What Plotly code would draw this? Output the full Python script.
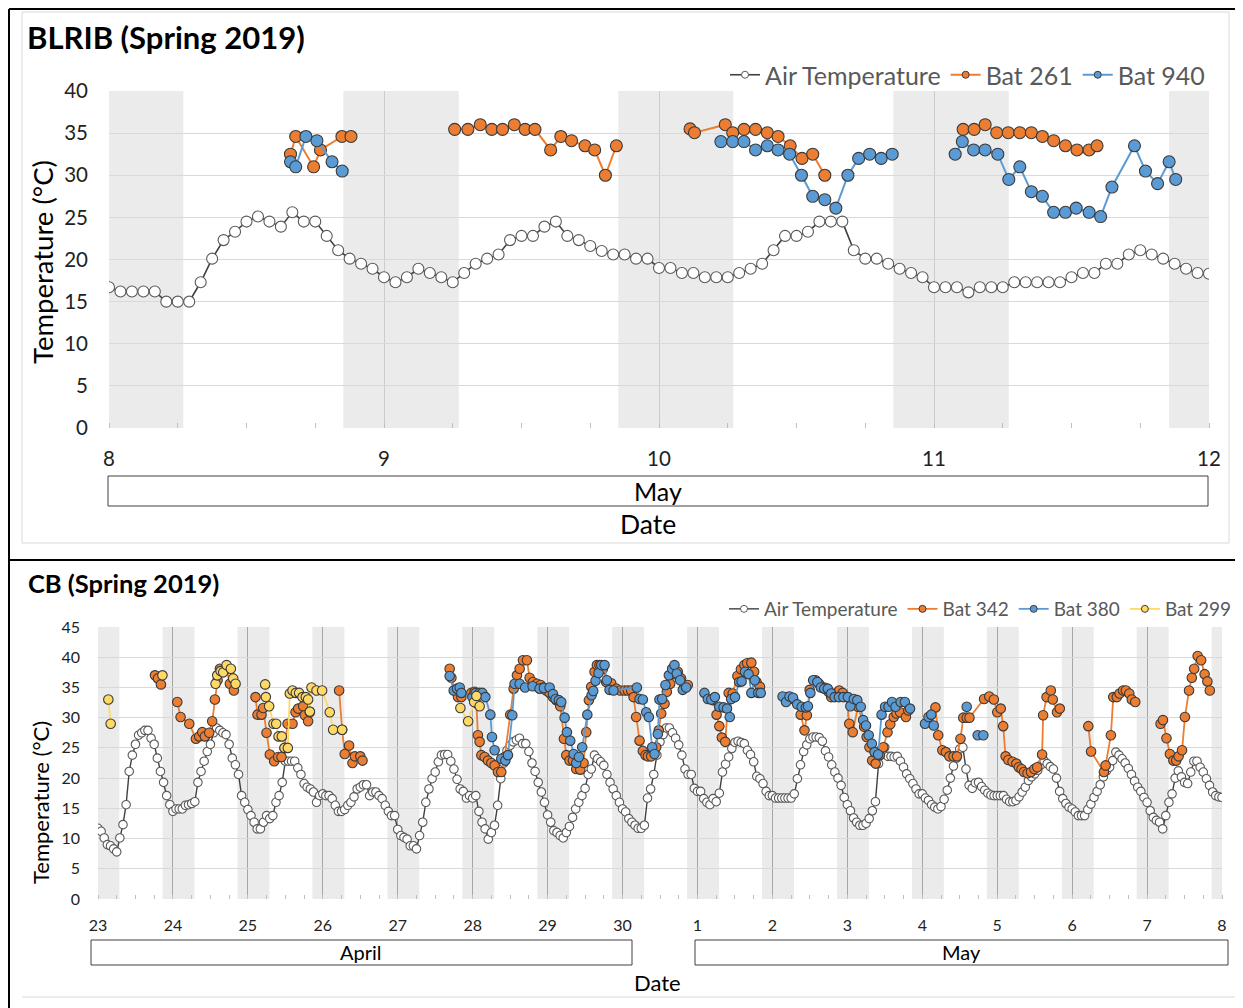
import plotly.graph_objects as go

W, H = 1243, 1008

# ---------------- TOP CHART DATA (BLRIB, May 8-12) ----------------
top_air_temp = [
    16.7, 16.2, 16.2, 16.2, 16.2, 15.0, 15.0, 15.0, 17.3, 20.1, 22.3, 23.3, 24.5, 25.1, 24.5, 23.9,
    25.6, 24.5, 24.5, 22.8, 21.1, 20.1, 19.5, 18.9,
    17.9, 17.3, 17.9, 18.9, 18.4, 17.9, 17.3, 18.4, 19.5, 20.1, 20.6, 22.3, 22.8, 22.8, 23.9, 24.5,
    22.8, 22.3, 21.6, 21.0, 20.6, 20.6, 20.1, 20.1,
    19.0, 19.0, 18.4, 18.4, 17.9, 17.9, 17.9, 18.4, 18.9, 19.5, 21.1, 22.8, 22.8, 23.3, 24.5, 24.5,
    24.5, 21.1, 20.1, 20.1, 19.5, 18.9, 18.4, 17.9,
    16.7, 16.7, 16.7, 16.1, 16.7, 16.7, 16.7, 17.3, 17.3, 17.3, 17.3, 17.3, 17.9, 18.4, 18.4, 19.5,
    19.5, 20.6, 21.1, 20.6, 20.1, 19.5, 18.9, 18.4,
    18.3,
]
top_air_x = [8 + i / 24 for i in range(len(top_air_temp))]

bat261_x = [8.660, 8.679, 8.744, 8.769, 8.847, 8.880, None,
            9.257, 9.305, 9.350, 9.392, 9.431, 9.474, 9.513, 9.549, 9.606, 9.643, 9.682, 9.731, 9.766, 9.805, 9.845, None,
            10.113, 10.129, 10.241, 10.268, 10.309, 10.351, 10.394, 10.433, 10.477, 10.520, 10.559, 10.603, None,
            11.106, 11.146, 11.186, 11.228, 11.270, 11.312, 11.354, 11.394, 11.435, 11.478, 11.520, 11.564, 11.593]
bat261_y = [32.5, 34.6, 31.0, 33.0, 34.6, 34.6, None,
            35.45, 35.45, 36.0, 35.45, 35.45, 36.0, 35.45, 35.45, 33.0, 34.6, 34.1, 33.5, 33.0, 30.0, 33.5, None,
            35.5, 35.05, 36.0, 35.05, 35.45, 35.45, 35.05, 34.6, 33.5, 32.0, 32.5, 30.0, None,
            35.45, 35.45, 36.0, 35.05, 35.05, 35.05, 35.05, 34.6, 34.1, 33.5, 33.0, 33.0, 33.5]

bat940_x = [8.660, 8.679, 8.716, 8.756, 8.811, 8.848, None,
            10.225, 10.268, 10.309, 10.351, 10.394, 10.433, 10.475, 10.518, 10.559, 10.603, 10.643, 10.687, 10.726,
            10.766, 10.808, 10.848, None,
            11.077, 11.103, 11.144, 11.186, 11.232, 11.272, 11.312, 11.354, 11.394, 11.435, 11.478, 11.517, 11.564,
            11.606, 11.647, 11.729, 11.769, 11.813, 11.855, 11.879]
bat940_y = [31.6, 31.0, 34.6, 34.1, 31.6, 30.5, None,
            34.0, 34.0, 34.0, 33.0, 33.5, 33.0, 32.5, 30.0, 27.5, 27.1, 26.1, 30.0, 32.0,
            32.5, 32.0, 32.5, None,
            32.5, 34.0, 33.0, 33.0, 32.5, 29.5, 31.0, 28.05, 27.5, 25.6, 25.6, 26.1, 25.6,
            25.1, 28.6, 33.5, 30.5, 29.0, 31.6, 29.5]

top_nights = [(7.852, 8.270), (8.852, 9.272), (9.852, 10.270), (10.852, 11.272), (11.855, 12.27)]
top_ticks = [8, 9, 10, 11, 12]

# ---------------- BOTTOM CHART DATA (CB, Apr 23 - May 8), x = days since Apr 23 ----------------
cb_air_temp = [
    # Apr 23
    11.7, 11.2, 10.1, 9.0, 8.8, 8.3, 7.8, 10.1, 12.3, 15.6, 21.1, 23.8, 25.6, 27.1, 27.5, 27.9, 27.9, 26.6, 25.6, 23.3, 21.1, 19.3, 17.1, 15.6,
    # Apr 24
    14.5, 14.9, 14.9, 14.9, 15.5, 15.6, 15.8, 16.1, 19.3, 21.1, 22.8, 24.4, 25.6, 27.5, 28.3, 27.9, 27.5, 27.2, 25.6, 23.3, 22.2, 20.6, 17.1, 16.0,
    # Apr 25
    14.8, 13.8, 12.7, 11.6, 11.6, 12.7, 13.8, 13.3, 13.8, 16.0, 17.1, 19.3, 22.8, 22.8, 22.8, 22.8, 21.7, 20.6, 19.1, 18.5, 18.2, 17.7, 16.0, 17.1,
    # Apr 26
    17.4, 17.1, 17.1, 16.6, 15.5, 14.5, 14.5, 14.8, 15.5, 16.0, 16.9, 18.2, 18.5, 18.9, 18.9, 17.1, 17.7, 17.7, 17.1, 16.6, 15.5, 14.5, 13.8, 13.8,
    # Apr 27
    11.5, 10.5, 10.2, 9.9, 8.8, 8.8, 8.3, 10.5, 12.7, 16.0, 18.2, 19.9, 21.0, 22.7, 23.8, 23.9, 23.9, 22.8, 21.5, 19.8, 18.2, 17.8, 16.7, 17.1,
    # Apr 28
    16.7, 17.1, 14.5, 12.7, 11.6, 9.9, 11.0, 12.2, 15.5, 19.9, 22.5, 24.6, 25.4, 26.0, 26.3, 26.6, 25.7, 25.7, 24.4, 22.5, 21.1, 19.3, 17.7, 16.0,
    # Apr 29
    13.9, 12.7, 11.3, 11.0, 10.5, 10.1, 11.0, 12.0, 13.5, 14.9, 16.0, 17.1, 18.3, 20.6, 21.5, 23.8, 23.2, 22.7, 22.1, 20.6, 19.3, 18.2, 17.1, 16.0,
    # Apr 30
    14.9, 14.4, 13.3, 12.7, 12.2, 11.7, 11.7, 12.2, 16.7, 18.2, 20.6, 23.8, 26.0, 27.2, 28.3, 28.3, 27.5, 26.6, 25.5, 23.8, 21.5, 20.6, 20.6, 18.3,
    # May 1
    17.8, 17.8, 16.6, 16.0, 15.6, 16.6, 16.1, 17.5, 21.0, 22.3, 23.5, 24.9, 25.9, 26.1, 25.9, 25.7, 24.6, 23.9, 22.7, 20.3, 19.9, 19.1, 17.8, 17.1,
    # May 2
    17.1, 16.7, 16.7, 16.7, 16.7, 16.7, 16.7, 17.4, 19.9, 22.2, 24.4, 25.5, 26.5, 26.8, 26.8, 26.7, 26.1, 24.5, 23.5, 22.2, 21.0, 20.0, 18.8, 16.8,
    # May 3
    15.6, 14.6, 13.4, 12.7, 12.2, 12.2, 12.5, 13.3, 14.6, 16.1, 22.4, 24.9, 25.1, 23.6, 23.6, 23.5, 23.6, 22.8, 21.8, 20.7, 19.9, 19.1, 18.2, 17.4,
    # May 4
    17.4, 16.7, 16.3, 15.6, 15.2, 14.9, 15.3, 16.5, 18.0, 20.0, 22.0, 23.3, 24.8, 25.1, 21.5, 18.8, 18.3, 19.2, 19.3, 18.6, 18.0, 17.5, 17.2, 17.1,
    # May 5
    17.1, 17.1, 17.1, 16.5, 16.1, 16.1, 16.3, 16.9, 17.7, 18.5, 19.6, 20.2, 20.7, 21.3, 22.2, 22.9, 22.4, 21.9, 21.5, 20.0, 17.8, 16.6, 15.8, 15.2,
    # May 6
    14.9, 14.4, 13.8, 13.8, 13.8, 14.8, 15.7, 16.8, 17.8, 18.9, 20.2, 21.2, 21.8, 22.9, 24.3, 23.8, 23.2, 22.5, 21.6, 20.6, 19.5, 18.5, 17.8, 16.8,
    # May 7
    16.0, 14.6, 13.5, 13.0, 12.7, 11.6, 13.8, 16.0, 17.4, 20.0, 21.2, 20.2, 19.3, 19.1, 21.0, 22.8, 22.8, 21.8, 21.0, 19.9, 18.8, 17.7, 17.1, 16.9,
    # May 8 00:00
    16.8,
]
cb_air_x = [i / 24 for i in range(len(cb_air_temp))]

bat342_x = [0.76, 0.80, 0.84, None,
            1.058, 1.102, 1.218, 1.307, 1.351, 1.391, 1.427, 1.484, 1.524, 1.56, 1.596, 1.627, 1.662, 1.716, 1.76, 1.813, None,
            2.102, 2.129, 2.182, 2.204, 2.249, 2.293, 2.351, 2.404, 2.449, 2.49, 2.53, 2.596, 2.636, 2.671, 2.738, 2.76, 2.804, 2.827, None,
            3.218, 3.258, 3.293, 3.351, 3.396, 3.427, 3.50, 3.53, None,
            4.693, 4.716, 4.76, 4.804, 4.849, 4.982, 5.027, 5.049, 5.07, 5.093, 5.116, 5.16, 5.204, 5.249, 5.293, 5.338,
            5.382, 5.427, 5.502, 5.547, 5.591, 5.627, 5.671, 5.724, 5.76, 5.804, 5.858, 5.907, 5.938, 5.982, 6.027, 6.071,
            6.116, 6.169, 6.218, 6.249, 6.293, 6.338, 6.382, 6.436, 6.48, 6.516, 6.551, 6.582, 6.627, 6.658, 6.693, 6.738,
            6.782, 6.849, 6.916, 6.969, 7.027, 7.071, 7.116, 7.147, 7.182, 7.227, 7.271, 7.307, 7.338, 7.382, 7.449, 7.484,
            7.516, 7.56, 7.591, 7.636, 7.689, 7.738, 7.782, 7.827, 7.871, None,
            8.209, 8.255, 8.292, 8.325, 8.371, 8.417, 8.47, 8.533, 8.58, 8.626, 8.663, 8.719, 8.756, 8.788, 8.834, None,
            9.205, 9.275, 9.377, 9.428, 9.46, 9.497, 9.576, 9.623, 9.692, 9.748, 9.785, 9.831, 9.892, 9.938, 9.994, 10.026,
            10.072, 10.142, 10.225, 10.258, 10.295, 10.332, 10.378, 10.434, 10.48, 10.536, 10.573, 10.619, 10.656, 10.703,
            10.782, 10.814, None,
            11.176, 11.213, 11.268, 11.315, 11.361, 11.417, 11.463, 11.51, 11.547, 11.593, 11.63, 11.825, 11.894, 11.955,
            12.001, 12.047, 12.08, 12.112, 12.149, 12.205, 12.256, 12.288, 12.325, 12.358, 12.404, 12.451, 12.497, 12.534,
            12.599, 12.613, 12.659, 12.715, 12.742, 12.798, 12.835, None,
            13.216, 13.253, 13.424, 13.447, 13.517, 13.549, 13.596, 13.633, 13.68, 13.717, 13.763, 13.796, 13.842, None,
            14.18, 14.212, 14.259, 14.305, 14.351, 14.389, 14.421, 14.467, 14.505, 14.56, 14.597, 14.629, 14.675, 14.722,
            14.768, 14.805, 14.837]
bat342_y = [37.0, 36.5, 35.5, None,
            32.6, 30.1, 29.0, 26.5, 26.9, 27.6, 26.9, 27.5, 29.4, 33.0, 36.2, 38.1, 37.6, 38.1, 35.6, 34.5, None,
            33.4, 30.5, 30.5, 31.6, 27.5, 23.9, 22.8, 23.5, 23.5, 25.0, 29.0, 29.0, 30.9, 31.5, 31.9, 30.4, 29.4, 30.9, None,
            34.5, 28.0, 24.0, 25.4, 22.5, 23.6, 23.6, 22.9, None,
            38.1, 36.6, 34.5, 33.4, 33.4, 34.1, 34.3, 32.4, 27.1, 26.0, 23.8, 23.5, 22.9, 22.5, 22.1, 21.0,
            21.0, 23.5, 30.5, 34.8, 37.0, 38.1, 39.5, 39.5, 36.6, 35.9, 35.6, 35.4, 35.0, 34.5, 34.1, 33.4,
            32.9, 31.9, 26.5, 23.8, 22.9, 22.9, 21.5, 21.4, 22.5, 27.6, 32.9, 35.1, 37.6, 38.7, 38.7, 38.1,
            35.9, 35.7, 34.8, 34.5, 34.5, 34.5, 34.5, 33.4, 30.1, 26.2, 24.5, 23.8, 23.6, 23.6, 25.1, 27.9,
            30.7, 32.3, 34.3, 35.6, 37.2, 37.6, 36.5, 35.4, 35.4, None,
            32.9, 30.5, 28.6, 26.7, 26.0, 34.1, 34.0, 36.9, 38.0, 38.7, 39.0, 39.1, 37.6, 35.9, 35.1, None,
            33.4, 33.1, 30.5, 27.9, 30.4, 34.6, 36.2, 35.6, 35.0, 34.3, 33.4, 34.0, 34.5, 34.1, 33.4, 29.0,
            27.6, 31.8, 28.5, 26.8, 25.1, 22.9, 22.4, 23.8, 25.1, 27.6, 28.9, 30.1, 30.7, 30.9,
            30.1, 31.2, None,
            31.7, 27.1, 24.6, 24.3, 23.6, 23.6, 23.6, 26.5, 30.0, 30.0, 30.0, 33.1, 33.5, 33.0,
            30.9, 31.5, 28.6, 23.6, 23.0, 22.7, 22.4, 21.8, 21.5, 21.0, 20.8, 21.0, 21.5, 21.8,
            23.9, 30.4, 33.4, 34.5, 33.0, 30.9, 31.5, None,
            28.6, 24.4, 21.0, 22.1, 27.1, 33.4, 33.4, 34.0, 34.5, 34.5, 34.0, 33.0, 32.6, None,
            29.0, 29.6, 26.6, 24.0, 22.9, 22.9, 23.6, 24.6, 30.1, 34.5, 36.6, 38.1, 40.2, 39.5,
            37.2, 36.0, 34.5]

bat380_x = [4.693, 4.747, 4.791, 4.827, 4.849, 4.996, 5.04, 5.093, 5.129, 5.169, 5.236, 5.258, 5.293, 5.382, 5.436,
            5.471, 5.529, 5.56, 5.627, 5.70, 5.80, 5.893, 5.95, 6.027, 6.071, 6.107, 6.151, 6.182, 6.227, 6.258, 6.302,
            6.347, 6.382, 6.418, 6.462, 6.53, 6.587, 6.609, 6.64, 6.68, 6.716, 6.76, 6.791, 6.827, 6.88, 7.191, 7.227,
            7.271, 7.316, 7.351, 7.396, 7.427, 7.471, 7.493, 7.529, 7.573, 7.618, 7.662, 7.693, 7.724, 7.769, 7.804,
            7.849, None,
            8.093, 8.139, 8.185, 8.232, 8.292, 8.348, 8.394, 8.431, 8.45, 8.501, 8.556, 8.589, 8.635, 8.682, 8.719,
            8.765, 8.811, 8.844, None,
            9.136, 9.182, 9.229, 9.275, 9.331, 9.391, 9.446, 9.474, 9.507, 9.544, 9.6, 9.646, 9.692, 9.739, 9.785,
            9.831, 9.887, 9.947, 10.007, 10.04, 10.086, 10.133, 10.179, 10.211, 10.249, 10.285, 10.327, 10.364,
            10.411, 10.457, 10.504, 10.55, 10.596, 10.643, 10.712, 10.768, 10.837, None,
            11.037, 11.083, 11.12, 11.153, None,
            11.593, None,
            11.74, 11.815]
bat380_y = [36.9, 34.5, 34.8, 35.0, 34.1, 33.4, 34.1, 34.1, 34.1, 33.4, 30.5, 26.8, 24.6, 23.2, 22.9,
            23.8, 30.4, 35.6, 35.6, 35.0, 35.2, 34.8, 34.9, 35.0, 33.9, 33.1, 32.9, 32.6, 30.0, 27.6, 26.2,
            24.0, 22.5, 23.5, 25.1, 30.5, 33.7, 34.4, 36.1, 37.4, 38.7, 38.7, 36.2, 34.6, 34.5, 35.0, 33.1,
            33.0, 30.9, 30.1, 25.1, 24.0, 27.3, 33.0, 33.1, 35.4, 37.0, 38.1, 38.7, 37.3, 36.2, 34.6,
            35.0, None,
            34.1, 33.1, 33.0, 33.4, 31.8, 31.7, 31.5, 30.1, 33.1, 33.4, 35.9, 36.0, 37.6, 37.2, 34.1,
            36.2, 34.1, 34.1, None,
            33.5, 32.6, 33.5, 33.3, 32.2, 31.8, 31.7, 31.9, 34.1, 36.2, 35.9, 35.0, 34.8, 34.8, 34.0,
            33.4, 33.4, 33.4, 33.4, 31.9, 33.1, 32.9, 31.8, 29.6, 28.7, 27.1, 25.7, 24.3,
            23.9, 30.5, 31.8, 31.8, 32.6, 31.8, 32.6, 32.6, 31.5, None,
            29.0, 30.1, 30.5, 28.7, None,
            31.8, None,
            27.1, 27.1]

bat299_x = [0.138, 0.169, None,
            0.86, None,
            1.569, 1.591, 1.636, 1.671, 1.716, 1.773, 1.804, 1.836, None,
            2.231, 2.24, 2.284, 2.342, 2.378, 2.409, 2.453, 2.489, 2.533, 2.56, 2.596, 2.64, 2.684, 2.729, 2.773,
            2.804, 2.827, 2.849, 2.916, 2.991, 3.093, 3.138, 3.258, None,
            4.836, 4.94, 5.02, 5.05, 5.093]
bat299_y = [33.0, 29.0, None,
            37.0, None,
            35.6, 37.0, 37.7, 37.5, 38.7, 38.1, 36.5, 35.6, None,
            35.5, 33.4, 31.9, 29.0, 29.0, 26.9, 26.9, 25.0, 25.0, 34.0, 34.5, 34.1, 34.1, 33.4, 33.4,
            33.0, 31.0, 35.0, 34.5, 34.5, 30.9, 28.0, 28.0, None,
            31.6, 29.4, 32.6, 33.6, 31.9]

cb_nights = [(-0.14, 0.285)] + [(d + 0.862, d + 1.288) for d in range(15)]
cb_tick_labels = ["23", "24", "25", "26", "27", "28", "29", "30", "1", "2", "3", "4", "5", "6", "7", "8"]

# ---------------- FIGURE ----------------
FONT = "Lato"
ORANGE, BLUE, YELLOW = "#ED7D31", "#5B9BD5", "#FFD966"
EDGE = "#3a3a3a"
AIR_LINE, AIR_EDGE = "#404040", "#595959"
OFF = 8  # the page places the figure 8px from the top-left corner


def px(x):
    return (x - OFF) / W


def py(y):
    return 1 - (y - OFF) / H


fig = go.Figure()


def add_series(x, y, name, color, fill, edge, size, lw, axes, legend):
    xa, ya = axes
    fig.add_trace(go.Scatter(x=x, y=y, name=name, mode="lines+markers", showlegend=False,
                             line=dict(color=color, width=lw),
                             marker=dict(size=size, color=fill, line=dict(color=edge, width=1.1)),
                             connectgaps=False, xaxis=xa, yaxis=ya))
    # legend entry with a small marker, as in the reference
    fig.add_trace(go.Scatter(x=[None], y=[None], name=name, mode="lines+markers", showlegend=True,
                             line=dict(color=color, width=lw),
                             marker=dict(size=7, color=fill, line=dict(color=edge, width=1)),
                             xaxis=xa, yaxis=ya, legend=legend))


add_series(top_air_x, top_air_temp, "Air Temperature", AIR_LINE, "white", AIR_EDGE, 11, 1.6, ("x", "y"), "legend")
add_series(bat261_x, bat261_y, "Bat 261", ORANGE, ORANGE, EDGE, 12, 2, ("x", "y"), "legend")
add_series(bat940_x, bat940_y, "Bat 940", BLUE, BLUE, EDGE, 12, 2, ("x", "y"), "legend")

add_series(cb_air_x, cb_air_temp, "Air Temperature", AIR_LINE, "white", AIR_EDGE, 8.5, 1.4, ("x2", "y2"), "legend2")
add_series(bat342_x, bat342_y, "Bat 342", ORANGE, ORANGE, EDGE, 9.5, 1.8, ("x2", "y2"), "legend2")
add_series(bat380_x, bat380_y, "Bat 380", BLUE, BLUE, EDGE, 9.5, 1.8, ("x2", "y2"), "legend2")
add_series(bat299_x, bat299_y, "Bat 299", YELLOW, YELLOW, EDGE, 9.5, 1.8, ("x2", "y2"), "legend2")

shapes = []
for a, b in top_nights:
    shapes.append(dict(type="rect", xref="x", yref="y domain", x0=a, x1=b, y0=0, y1=1,
                       fillcolor="#ebebeb", line=dict(width=0), layer="below"))
for a, b in cb_nights:
    shapes.append(dict(type="rect", xref="x2", yref="y2 domain", x0=a, x1=b, y0=0, y1=1,
                       fillcolor="#ebebeb", line=dict(width=0), layer="below"))


def pline(x0, y0, x1, y1, color, width):
    return dict(type="line", xref="paper", yref="paper", x0=px(x0), y0=py(y0), x1=px(x1), y1=py(y1),
                line=dict(color=color, width=width))


def prect(x0, y0, x1, y1, color, width):
    return dict(type="rect", xref="paper", yref="paper", x0=px(x0), y0=py(y0), x1=px(x1), y1=py(y1),
                line=dict(color=color, width=width), fillcolor="rgba(0,0,0,0)")


# frame decorations
shapes += [
    pline(9, 9, W + 8, 9, "black", 2),
    pline(9, 9, 9, H + 8, "black", 2),
    pline(9, 560, W + 8, 560, "black", 2),
    prect(22, 12, 1229, 543, "#d9d9d9", 1),
    pline(22, 997, 1235, 997, "#d9d9d9", 1),
    # month boxes
    prect(108, 476, 1208, 506, "#404040", 1),
    prect(91, 940, 632, 965, "#404040", 1),
    prect(695, 940, 1228, 965, "#404040", 1),
]

annotations = [
    dict(text="<b>BLRIB (Spring 2019)</b>", x=px(25), y=py(37), xanchor="left", yanchor="middle",
         font=dict(family=FONT, size=31, color="black")),
    dict(text="<b>CB (Spring 2019)</b>", x=px(26), y=py(583), xanchor="left", yanchor="middle",
         font=dict(family=FONT, size=25.5, color="black")),
    dict(text="Temperature (°C)", x=px(42), y=py(262), textangle=-90, xanchor="center", yanchor="middle",
         font=dict(family=FONT, size=27.5, color="black")),
    dict(text="Temperature (°C)", x=px(40), y=py(803), textangle=-90, xanchor="center", yanchor="middle",
         font=dict(family=FONT, size=22, color="black")),
    dict(text="May", x=px(658), y=py(491), xanchor="center", yanchor="middle",
         font=dict(family=FONT, size=25, color="black")),
    dict(text="Date", x=px(648), y=py(524), xanchor="center", yanchor="middle",
         font=dict(family=FONT, size=26.5, color="black")),
    dict(text="April", x=px(361), y=py(952), xanchor="center", yanchor="middle",
         font=dict(family=FONT, size=20, color="black")),
    dict(text="May", x=px(961), y=py(952), xanchor="center", yanchor="middle",
         font=dict(family=FONT, size=20, color="black")),
    dict(text="Date", x=px(657), y=py(982), xanchor="center", yanchor="middle",
         font=dict(family=FONT, size=22, color="black")),
]
for a in annotations:
    a.update(xref="paper", yref="paper", showarrow=False)

fig.update_layout(
    width=W, height=H, margin=dict(l=0, r=0, t=0, b=0, autoexpand=False),
    paper_bgcolor="white", plot_bgcolor="white",
    font=dict(family=FONT, color="#333333"),
    shapes=shapes, annotations=annotations,
    xaxis=dict(domain=[px(109), px(1209)], range=[8, 12], anchor="y", tickmode="array", tickvals=top_ticks,
               ticktext=[str(t) for t in top_ticks], showgrid=True, gridcolor="#cccccc", gridwidth=1,
               zeroline=False, showline=False, ticks="", ticklabelstandoff=16, automargin=False,
               tickfont=dict(family=FONT, size=20.5, color="#222"),
               minor=dict(dtick=0.25, tick0=8, ticks="inside", ticklen=5, tickcolor="#bfbfbf", showgrid=False)),
    yaxis=dict(domain=[py(428), py(91)], range=[0, 40], anchor="x", dtick=5, showgrid=True, gridcolor="#d9d9d9",
               zeroline=False, ticks="", ticklabelstandoff=20, automargin=False,
               tickfont=dict(family=FONT, size=20.5, color="#222")),
    xaxis2=dict(domain=[px(98), px(1222)], range=[0, 15], anchor="y2", tickmode="array",
                tickvals=list(range(16)), ticktext=cb_tick_labels, showgrid=True, gridcolor="#a6a6a6",
                gridwidth=1, zeroline=False, showline=False, ticks="", ticklabelstandoff=15, automargin=False,
                tickfont=dict(family=FONT, size=16, color="#222"),
                minor=dict(dtick=0.25, tick0=0, ticks="inside", ticklen=4, tickcolor="#bfbfbf", showgrid=False)),
    yaxis2=dict(domain=[py(899), py(627)], range=[0, 45], anchor="x2", dtick=5, showgrid=True,
                gridcolor="#d9d9d9", zeroline=False, ticks="", ticklabelstandoff=17, automargin=False,
                tickfont=dict(family=FONT, size=16, color="#222")),
    legend=dict(orientation="h", x=px(1210), xanchor="right", y=py(75), yanchor="middle",
                font=dict(family=FONT, size=25, color="#595959"), bgcolor="rgba(0,0,0,0)",
                itemwidth=30, tracegroupgap=0),
    legend2=dict(orientation="h", x=px(1237), xanchor="right", y=py(609), yanchor="middle",
                 font=dict(family=FONT, size=19, color="#595959"), bgcolor="rgba(0,0,0,0)",
                 itemwidth=30, tracegroupgap=0),
    showlegend=True,
)

fig.write_html("out.html")
